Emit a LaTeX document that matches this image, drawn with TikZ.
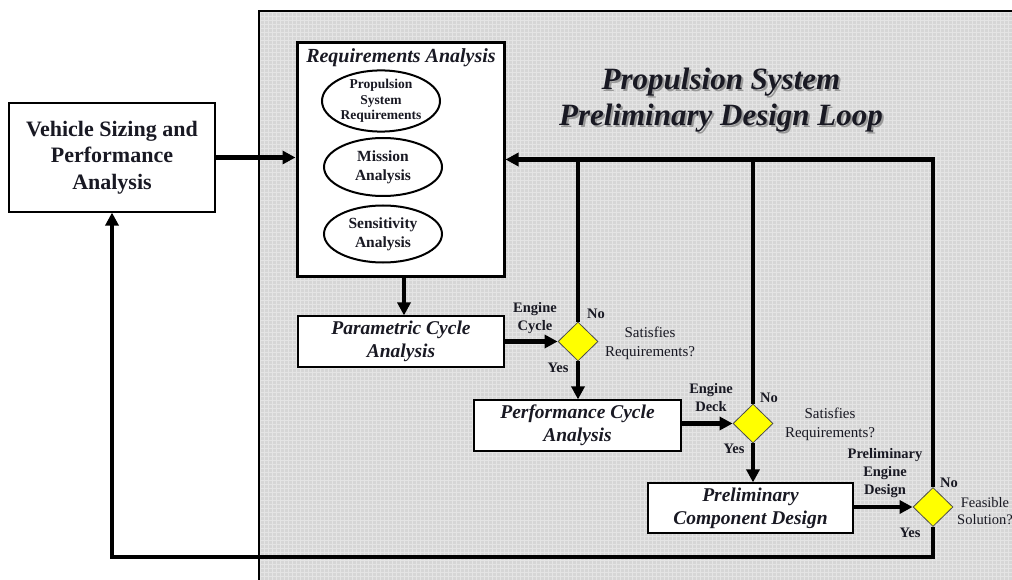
\documentclass[tikz,border=0pt]{standalone}
\usepackage{fontspec}
\setmainfont{Liberation Serif}
\usetikzlibrary{shapes.geometric,arrows.meta}
\definecolor{panel}{RGB}{214,214,214}
\definecolor{ink}{RGB}{25,25,35}
\definecolor{dyellow}{RGB}{255,255,0}
\tikzset{
  flow/.style={line width=4.8pt, draw=black},
  arr/.style={flow, -{Triangle[length=13pt,width=13pt]}},
  boxw/.style={draw=black, line width=1.2pt, fill=white, align=center, inner sep=0pt},
  ell/.style={ellipse, draw=black, line width=2pt, fill=white, align=center, inner sep=0pt, text=ink, font=\bfseries},
  dia/.style={diamond, draw=black!70, line width=0.8pt, fill=dyellow, inner sep=0pt, minimum width=40pt, minimum height=39pt},
  lbl/.style={font=\fontsize{14.5}{18}\selectfont\bfseries, text=ink, align=center, inner sep=0pt},
  lblr/.style={font=\fontsize{15}{19}\selectfont, text=ink, align=center, inner sep=0pt},
  ttl/.style={font=\fontsize{31}{36}\selectfont\bfseries\itshape, align=center, inner sep=0pt}
}
\begin{document}
\begin{tikzpicture}[x=1pt, y=-1pt]
\useasboundingbox (0,0) rectangle (1012,580);
% panel
\fill[panel] (259,11) rectangle (1020,590);
\begin{scope}
\clip (259,11) rectangle (1012,580);
\draw[white, opacity=0.35, line width=0.5pt, step=4pt] (259,11) grid (1016,584);
\end{scope}
\draw[black, line width=2.5pt] (259,590) -- (259,11) -- (1020,11);
% title
\node[ttl, text=black!40] at (723,102) {Propulsion System\\Preliminary Design Loop};
\node[ttl, text=ink] (title) at (721,100) {Propulsion System\\Preliminary Design Loop};
% vehicle box
\node[boxw, minimum width=206pt, minimum height=109pt, font=\fontsize{22}{26.5}\selectfont\bfseries, text=ink] (veh) at (112,157.5) {Vehicle Sizing and\\Performance\\Analysis};
% requirements box
\node[draw=black, line width=3pt, fill=white, minimum width=207pt, minimum height=233pt, inner sep=0pt] (req) at (400.5,159.5) {};
\node[font=\fontsize{20}{22}\selectfont\bfseries\itshape, text=ink, inner sep=0pt] (reqt) at (401,58) {Requirements Analysis};
\node[ell, minimum width=118pt, minimum height=56pt, font=\fontsize{13.5}{15.5}\selectfont\bfseries] (e1) at (381,101) {Propulsion\\System\\Requirements};
\node[ell, minimum width=118pt, minimum height=58pt, font=\fontsize{15.5}{19}\selectfont\bfseries] (e2) at (383,167) {Mission\\Analysis};
\node[ell, minimum width=118pt, minimum height=57pt, font=\fontsize{15.5}{19}\selectfont\bfseries] (e3) at (383,234) {Sensitivity\\Analysis};
% process boxes
\node[boxw, minimum width=206pt, minimum height=51pt, font=\fontsize{19.5}{23}\selectfont\bfseries\itshape, text=ink] (par) at (401,341.5) {Parametric Cycle\\Analysis};
\node[boxw, minimum width=207pt, minimum height=51pt, font=\fontsize{19.5}{23}\selectfont\bfseries\itshape, text=ink] (perf) at (577.5,425.5) {Performance Cycle\\Analysis};
\node[boxw, minimum width=205pt, minimum height=50pt, font=\fontsize{19.5}{23}\selectfont\bfseries\itshape, text=ink] (comp) at (750.5,508) {Preliminary\\Component Design};
% diamonds
\node[dia] (d1) at (578,341.5) {};
\node[dia] (d2) at (753,423.5) {};
\node[dia] (d3) at (933,507) {};
% connectors
\draw[arr] (veh.east) -- (veh.east -| req.west);
\draw[arr] (req.south -| 404,0) -- (par.north -| 404,0);
\draw[arr] (par.east) -- (d1.west);
\draw[arr] (d1.south) -- (d1.south |- perf.north);
\draw[arr] (perf.east |- d2.west) -- (d2.west);
\draw[arr] (d2.south) -- (d2.south |- comp.north);
\draw[arr] (comp.east |- d3.west) -- (d3.west);
\draw[arr] (d3.north) |- (req.east);
\draw[flow] (d1.north) -- (d1.north |- req.east);
\draw[flow] (d2.north) -- (d2.north |- req.east);
\coordinate (fb) at (933,557);
\draw[arr] (d3.south) -- (fb) -| (veh.south);
% labels
\node[lbl] (l1) at (535,318) {Engine\\Cycle};
\node[lbl] (n1) at (596,314) {No};
\node[lblr] (s1) at (650,343) {Satisfies\\Requirements?};
\node[lbl] (y1) at (558,368) {Yes};
\node[lbl] (l2) at (711,398) {Engine\\Deck};
\node[lbl] (n2) at (769,398) {No};
\node[lblr] (s2) at (830,424) {Satisfies\\Requirements?};
\node[lbl] (y2) at (734,449) {Yes};
\node[lbl] (l3) at (885,473) {Preliminary\\Engine\\Design};
\node[lbl] (n3) at (949,483) {No};
\node[lblr, font=\fontsize{14.5}{17}\selectfont] (s3) at (985,511) {Feasible\\Solution?};
\node[lbl] (y3) at (910,533) {Yes};
\end{tikzpicture}
\end{document}
